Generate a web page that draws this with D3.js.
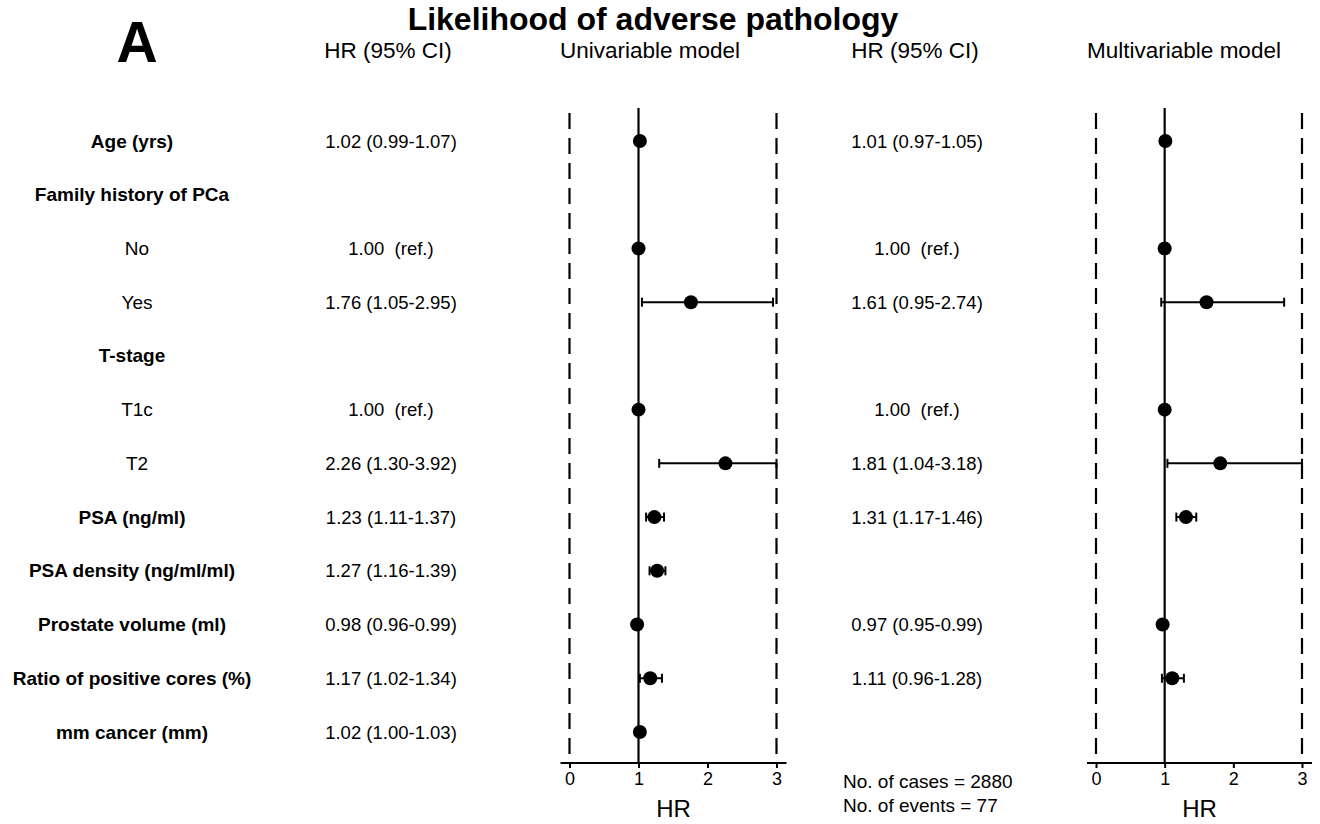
<!DOCTYPE html>
<html>
<head>
<meta charset="utf-8">
<script src="https://cdn.jsdelivr.net/npm/d3@7"></script>
<style>
  html, body { margin: 0; padding: 0; background: #fff; }
  svg { display: block; font-family: "Liberation Sans", Arial, Helvetica, sans-serif; }
</style>
</head>
<body>
<svg id="chart" width="1320" height="824"></svg>
<script>
// ---------------- data ----------------
const rowLabels = ["Age (yrs)", "Family history of PCa", "No", "Yes", "T-stage", "T1c", "T2",
  "PSA (ng/ml)", "PSA density (ng/ml/ml)", "Prostate volume (ml)", "Ratio of positive cores (%)", "mm cancer (mm)"];
const rowBold = [true, true, false, false, true, false, false, true, true, true, true, true];

// Univariable model: HR, lower, upper (null = no estimate)
const uniHR    = [1.02, null, 1.00, 1.76, null, 1.00, 2.26, 1.23, 1.27, 0.98, 1.17, 1.02];
const uniLow   = [0.99, null, null, 1.05, null, null, 1.30, 1.11, 1.16, 0.96, 1.02, 1.00];
const uniHigh  = [1.07, null, null, 2.95, null, null, 3.92, 1.37, 1.39, 0.99, 1.34, 1.03];
const uniText  = ["1.02 (0.99-1.07)", "", "1.00  (ref.)", "1.76 (1.05-2.95)", "", "1.00  (ref.)",
  "2.26 (1.30-3.92)", "1.23 (1.11-1.37)", "1.27 (1.16-1.39)", "0.98 (0.96-0.99)", "1.17 (1.02-1.34)", "1.02 (1.00-1.03)"];

// Multivariable model
const multiHR   = [1.01, null, 1.00, 1.61, null, 1.00, 1.81, 1.31, null, 0.97, 1.11, null];
const multiLow  = [0.97, null, null, 0.95, null, null, 1.04, 1.17, null, 0.95, 0.96, null];
const multiHigh = [1.05, null, null, 2.74, null, null, 3.18, 1.46, null, 0.99, 1.28, null];
const multiText = ["1.01 (0.97-1.05)", "", "1.00  (ref.)", "1.61 (0.95-2.74)", "", "1.00  (ref.)",
  "1.81 (1.04-3.18)", "1.31 (1.17-1.46)", "", "0.97 (0.95-0.99)", "1.11 (0.96-1.28)", ""];

const axisTicks = [0, 1, 2, 3];
const refLines = [0, 3];
const nCases = 2880, nEvents = 77;

// ---------------- drawing ----------------
const svg = d3.select("#chart");

const y = d3.scalePoint().domain(rowLabels).range([141, 732]);

// Title and panel letter
svg.append("text").attr("x", 653).attr("y", 30).attr("text-anchor", "middle")
  .attr("font-size", 32).attr("font-weight", "bold").text("Likelihood of adverse pathology");
svg.append("text").attr("x", 137).attr("y", 62).attr("text-anchor", "middle")
  .attr("font-size", 57).attr("font-weight", "bold").text("A");

// Column headers
const headers = [
  {t: "HR (95% CI)", x: 388},
  {t: "Univariable model", x: 650},
  {t: "HR (95% CI)", x: 915},
  {t: "Multivariable model", x: 1184}
];
svg.selectAll("text.hdr").data(headers).join("text").attr("class", "hdr")
  .attr("x", d => d.x).attr("y", 58).attr("text-anchor", "middle")
  .attr("font-size", 22.5).text(d => d.t);

// Row labels
svg.selectAll("text.rowlab").data(rowLabels).join("text").attr("class", "rowlab")
  .attr("x", (d, i) => rowBold[i] ? 132 : 137)
  .attr("y", d => y(d) + 6.5)
  .attr("text-anchor", "middle")
  .attr("font-size", 19)
  .attr("font-weight", (d, i) => rowBold[i] ? "bold" : "normal")
  .text(d => d);

// HR text columns
function textColumn(arr, cx, cls) {
  svg.selectAll("text." + cls).data(arr).join("text").attr("class", cls)
    .attr("x", cx).attr("y", (d, i) => y(rowLabels[i]) + 6.5)
    .attr("text-anchor", "middle").attr("font-size", 18.5)
    .style("white-space", "pre")
    .text(d => d);
}
textColumn(uniText, 391, "utxt");
textColumn(multiText, 917, "mtxt");

// Forest panels
function forest(x0, x1, hr, lo, hi, cls) {
  const x = d3.scaleLinear().domain([0, 3]).range([x0, x1]);
  const g = svg.append("g").attr("class", cls);
  const yTop = 108, yAxis = 763;

  // dashed reference lines at 0 and 3
  g.selectAll("line.dash").data(refLines).join("line").attr("class", "dash")
    .attr("x1", d => x(d)).attr("x2", d => x(d))
    .attr("y1", 113).attr("y2", yAxis)
    .attr("stroke", "#000").attr("stroke-width", 2.2).attr("stroke-dasharray", "16,9");
  // solid line at 1
  g.append("line").attr("x1", x(1)).attr("x2", x(1)).attr("y1", yTop).attr("y2", yAxis)
    .attr("stroke", "#000").attr("stroke-width", 2.2);

  // axis
  const ax = g.append("g").attr("transform", `translate(0,${yAxis})`)
    .call(d3.axisBottom(x).tickValues(axisTicks).tickSize(5).tickSizeOuter(0).tickFormat(d3.format("d")));
  ax.select(".domain").remove();
  ax.selectAll(".tick line").attr("stroke", "#000").attr("stroke-width", 2);
  ax.selectAll(".tick text").attr("font-size", 18).attr("fill", "#000")
    .attr("font-family", "Liberation Sans, Arial, sans-serif").attr("dy", "0.85em").attr("y", 7);
  g.append("line").attr("x1", x(0) - 9).attr("x2", x(3) + 10)
    .attr("y1", yAxis).attr("y2", yAxis).attr("stroke", "#000").attr("stroke-width", 2.2);
  g.append("text").attr("x", (x(0) - 9 + x(3) + 10) / 2).attr("y", 817)
    .attr("text-anchor", "middle").attr("font-size", 24).text("HR");

  // CI bars
  const rows = rowLabels.map((r, i) => ({r, hr: hr[i], lo: lo[i], hi: hi[i]}));
  const withCI = rows.filter(d => d.hr !== null && d.lo !== null);
  const clip = v => Math.max(0, Math.min(3, v));
  withCI.forEach(d => {
    const yy = y(d.r);
    const a = x(clip(d.lo)), b = x(clip(d.hi));
    g.append("line").attr("x1", a).attr("x2", b).attr("y1", yy).attr("y2", yy)
      .attr("stroke", "#000").attr("stroke-width", 2);
    [a, b].forEach(xx => g.append("line").attr("x1", xx).attr("x2", xx)
      .attr("y1", yy - 4.5).attr("y2", yy + 4.5).attr("stroke", "#000").attr("stroke-width", 2));
  });
  // points
  g.selectAll("circle").data(rows.filter(d => d.hr !== null)).join("circle")
    .attr("cx", d => x(d.hr)).attr("cy", d => y(d.r)).attr("r", 7).attr("fill", "#000");
}
forest(569.5, 776.5, uniHR, uniLow, uniHigh, "uni");
forest(1096, 1302, multiHR, multiLow, multiHigh, "multi");

// Case / event counts
svg.append("text").attr("x", 843).attr("y", 788).attr("font-size", 19).text("No. of cases = " + nCases);
svg.append("text").attr("x", 843).attr("y", 812).attr("font-size", 19).text("No. of events = " + nEvents);
</script>
</body>
</html>
